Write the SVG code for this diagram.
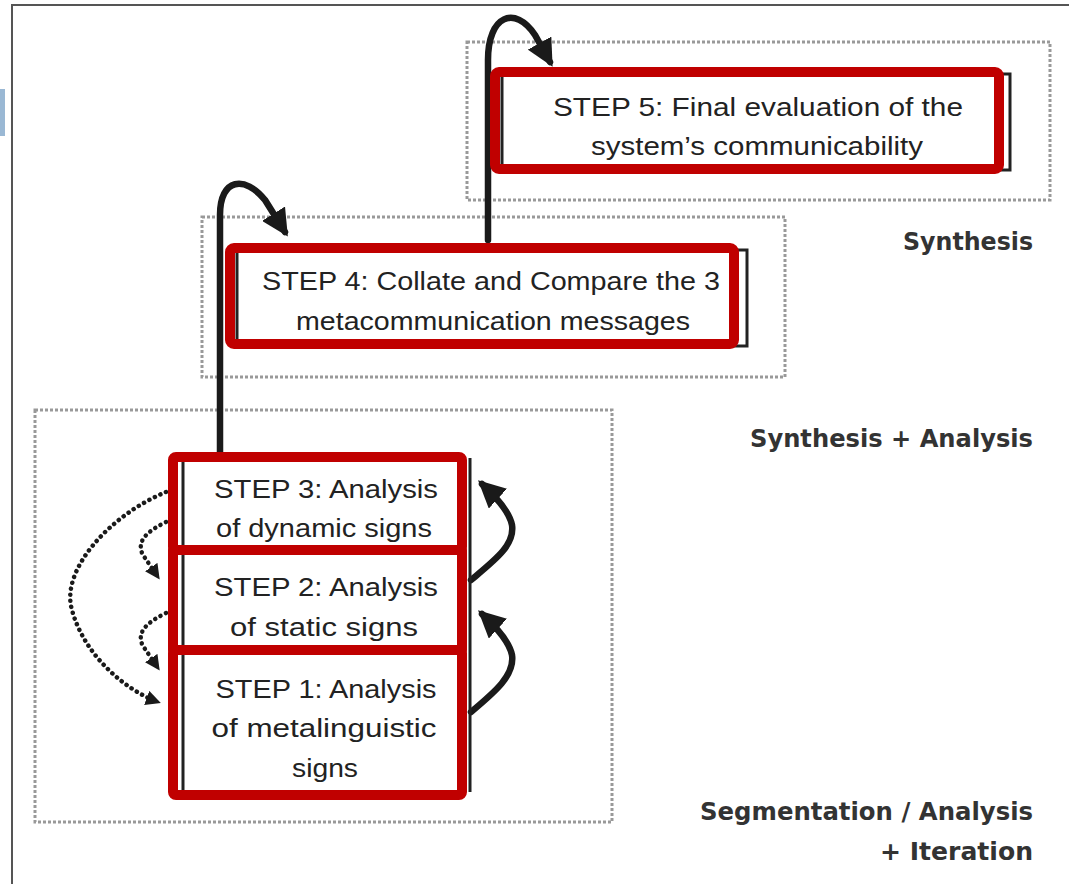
<svg xmlns="http://www.w3.org/2000/svg" width="1069" height="884" viewBox="0 0 1069 884">
<style>
.grp{fill:none;stroke:#999;stroke-width:3;stroke-dasharray:3 2}
.red{fill:none;stroke:#c00000;stroke-width:10;stroke-linejoin:round}
.blk{fill:none;stroke:#222;stroke-width:3}
.t{font-family:"Liberation Sans",Arial,sans-serif;font-size:26px;fill:#222;text-anchor:middle}
.lbl{font-family:"DejaVu Sans",sans-serif;font-size:24px;font-weight:bold;fill:#333;text-anchor:end}
.sol{fill:none;stroke:#1a1a1a;stroke-width:6.5;stroke-linecap:round}
.dot{fill:none;stroke:#1a1a1a;stroke-width:4.5;stroke-dasharray:0.1 6;stroke-linecap:round}
</style>
<defs>
<marker id="ah" viewBox="0 0 10 10" refX="8" refY="5" markerWidth="27" markerHeight="27" markerUnits="userSpaceOnUse" orient="auto">
<path d="M0,0 L10,5 L0,10 z" fill="#1a1a1a"/>
</marker>
<marker id="ahs" viewBox="0 0 10 10" refX="8" refY="5" markerWidth="15" markerHeight="15" markerUnits="userSpaceOnUse" orient="auto">
<path d="M0,0 L10,5 L0,10 z" fill="#1a1a1a"/>
</marker>
</defs>
<rect width="1069" height="884" fill="#fff"/>
<path d="M12,884 L12,5 L1069,5" fill="none" stroke="#555" stroke-width="2"/>
<rect x="0" y="89" width="5" height="47" fill="#9ab8d4"/>

<g id="groups">
<rect class="grp" x="467" y="42" width="583" height="158"/>
<rect class="grp" x="202" y="217" width="583" height="160"/>
<rect class="grp" x="35" y="410" width="577" height="412"/>
</g>

<g id="labels">
<text class="lbl" x="1033" y="250" textLength="130" lengthAdjust="spacingAndGlyphs">Synthesis</text>
<text class="lbl" x="1033" y="447" textLength="283" lengthAdjust="spacingAndGlyphs">Synthesis + Analysis</text>
<text class="lbl" x="1033" y="820" textLength="333" lengthAdjust="spacingAndGlyphs">Segmentation / Analysis</text>
<text class="lbl" x="1033" y="860" textLength="153" lengthAdjust="spacingAndGlyphs">+ Iteration</text>
</g>

<g id="connectors">
<path class="sol" d="M488,240 L488,60 C488,15 515,5 535,35 L550,62" marker-end="url(#ah)"/>
<path class="sol" d="M220,453 L220,215 C220,178 245,175 265,200 L285,232" marker-end="url(#ah)"/>
<path class="sol" d="M471,712 C495,692 515,675 512,655 C509,640 494,625 482,614" marker-end="url(#ah)"/>
<path class="sol" d="M471,580 C495,560 515,545 512,525 C509,510 494,495 482,484" marker-end="url(#ah)"/>
<path class="dot" d="M166,492 C110,515 60,570 72,610 C84,655 125,690 158,702" marker-end="url(#ahs)"/>
<path class="dot" d="M166,522 C150,530 135,540 143,555 L158,577" marker-end="url(#ahs)"/>
<path class="dot" d="M166,613 C150,621 135,631 143,646 L158,668" marker-end="url(#ahs)"/>
</g>

<g id="step5">
<rect class="blk" x="502" y="74" width="508" height="96"/>
<rect class="red" x="495" y="72" width="504" height="97" rx="4"/>
<text class="t" x="758" y="116" textLength="410" lengthAdjust="spacingAndGlyphs">STEP 5: Final evaluation of the</text>
<text class="t" x="757" y="155" textLength="332" lengthAdjust="spacingAndGlyphs">system’s communicability</text>
</g>

<g id="step4">
<rect class="blk" x="237" y="250" width="510" height="96"/>
<rect class="red" x="230" y="248" width="504" height="96" rx="4"/>
<text class="t" x="491" y="290" textLength="458" lengthAdjust="spacingAndGlyphs">STEP 4: Collate and Compare the 3</text>
<text class="t" x="493" y="330" textLength="394" lengthAdjust="spacingAndGlyphs">metacommunication messages</text>
</g>

<g id="steps123">
<path class="blk" d="M183,462 L183,790 M470,458 L470,792"/>
<g id="step3">
<rect class="red" x="173" y="457" width="289" height="93" rx="3"/>
<text class="t" x="326" y="498" textLength="224" lengthAdjust="spacingAndGlyphs">STEP 3: Analysis</text>
<text class="t" x="324" y="537" textLength="216" lengthAdjust="spacingAndGlyphs">of dynamic signs</text>
</g>
<g id="step2">
<rect class="red" x="173" y="550" width="289" height="100"/>
<text class="t" x="326" y="596" textLength="224" lengthAdjust="spacingAndGlyphs">STEP 2: Analysis</text>
<text class="t" x="324" y="636" textLength="188" lengthAdjust="spacingAndGlyphs">of static signs</text>
</g>
<g id="step1">
<rect class="red" x="173" y="650" width="289" height="145" rx="3"/>
<text class="t" x="326" y="698" textLength="221" lengthAdjust="spacingAndGlyphs">STEP 1: Analysis</text>
<text class="t" x="324" y="737" textLength="225" lengthAdjust="spacingAndGlyphs">of metalinguistic</text>
<text class="t" x="325" y="777" textLength="66" lengthAdjust="spacingAndGlyphs">signs</text>
</g>
</g>
</svg>
